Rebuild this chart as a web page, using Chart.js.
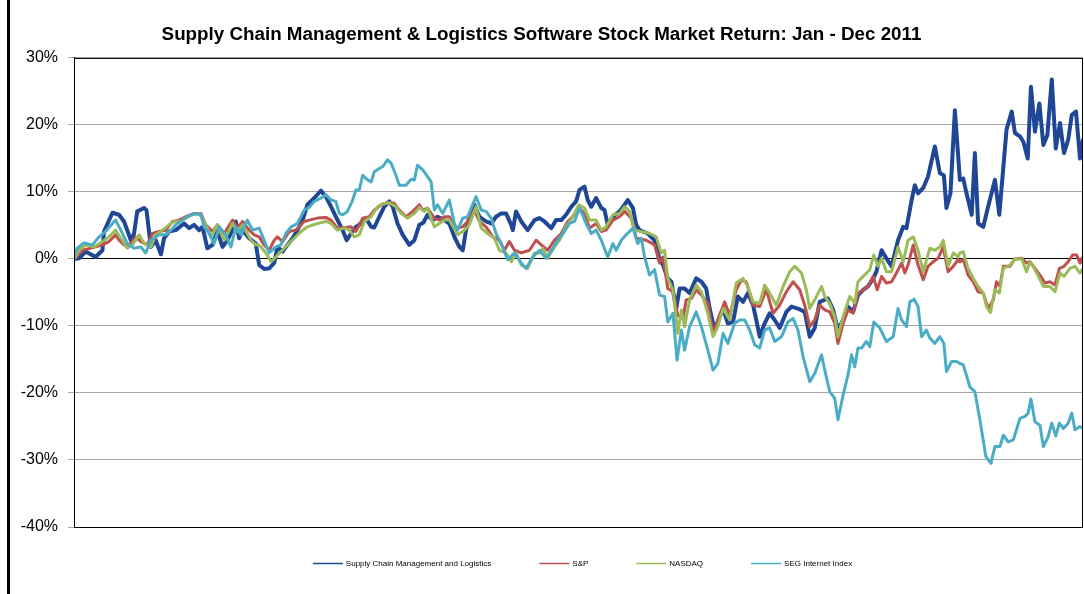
<!DOCTYPE html>
<html>
<head>
<meta charset="utf-8">
<title>Supply Chain Management &amp; Logistics Software Stock Market Return</title>
<script src="https://cdn.jsdelivr.net/npm/chart.js@4"></script>
<style>
  html, body { margin: 0; padding: 0; background: #fff; }
  #wrap { position: relative; width: 1084px; height: 594px; }
</style>
</head>
<body>
<div id="wrap"><canvas id="chart_1"></canvas></div>
<script>
// [trading day of 2011, return in %]
var scmReturn = [[0,0],[1.25,0.1],[2.9,1.1],[5.4,0.3],[7.1,1.3],[7.5,4.1],[9.6,6.9],[11.25,6.6],[12.5,5.6],[14.2,2.8],[15,3.8],[15.8,7.1],[17.5,7.6],[18.1,7.3],[19.2,1.8],[20.4,2.8],[21.7,0.7],[22.5,3.1],[23.75,4.1],[25.4,4.3],[27.5,5.3],[28.75,4.6],[30,5.1],[31.25,4.3],[32.1,4.8],[33.3,1.6],[34.6,2.1],[35.8,4.1],[37.1,1.8],[38.3,2.8],[39.6,4.3],[40.4,5.6],[41.25,3.1],[42.1,4.3],[43.75,3.1],[45.4,2.3],[46.25,-0.9],[47.5,-1.5],[48.75,-1.4],[50,-0.6],[50.8,1.8],[52.1,1.1],[53.3,2.1],[54.6,3.1],[55.8,4.3],[57.1,5.8],[58.3,8.1],[60,9.1],[61.7,10.2],[62.9,9.3],[64.2,7.8],[65.4,6.3],[67.1,4.3],[68.1,2.8],[69.2,3.8],[70.4,4.8],[71.7,5.3],[72.9,6.1],[74.2,4.8],[75,4.7],[76.25,6.3],[77.5,7.8],[78.75,8.6],[79.6,7.8],[80.8,5.3],[82.1,3.6],[83.75,2.1],[85,2.8],[86.25,5.1],[87.25,5.4],[88.3,6.6],[89.6,5.8],[90.8,6.3],[92.5,5.8],[93.75,5.3],[95,3.3],[96.25,1.8],[97.1,1.3],[97.9,4.3],[98.75,6.3],[100,8.1],[101.25,6.3],[102.9,5.6],[104.2,5.3],[105.4,6.3],[106.7,6.8],[107.9,6.8],[109.2,5.1],[109.6,4.3],[110.4,7.1],[111.7,5.6],[113.3,4.3],[115,5.8],[116.25,6.1],[117.5,5.6],[119.2,4.6],[120.4,5.8],[121.7,5.8],[122.9,6.6],[124.2,7.8],[125.4,8.6],[126.25,10.3],[127.5,10.8],[128.3,8.8],[129.2,7.8],[130.4,9.1],[131.7,7.6],[132.5,7.3],[133.3,5.1],[134.6,6.3],[136.25,7.1],[137.5,8.1],[138.3,8.8],[139.6,7.6],[140.4,5.1],[141.25,4.3],[143.3,3.8],[145,2.8],[146.25,-0.1],[147.1,-0.9],[148.3,-2.9],[149.2,-3.4],[150.4,-7.4],[151.25,-4.4],[152.5,-4.4],[153.75,-5.1],[155.4,-2.9],[156.7,-3.4],[157.9,-4.4],[158.75,-7.4],[160,-10.6],[161.25,-8.6],[162.1,-7.4],[163.3,-9.6],[164.6,-9.4],[165.8,-5.6],[167.1,-6.4],[168.3,-5.1],[169.6,-6.9],[170.4,-9.1],[171.25,-11.6],[172.5,-9.6],[173.75,-8.1],[175,-9.1],[176.25,-10.3],[177.9,-7.9],[179.2,-7.1],[180.8,-7.4],[182.5,-7.9],[183.75,-11.6],[185,-10.3],[186.25,-6.4],[188.3,-5.9],[189.6,-7.6],[190.8,-10.6],[192.1,-9.1],[193.3,-7.1],[194.6,-7.9],[195.8,-5.4],[197.1,-4.6],[198.3,-4.1],[199.6,-2.9],[200.4,-1.9],[201.7,1.3],[202.9,0.1],[204.2,-1.1],[205.8,2.8],[207.1,4.8],[207.9,4.6],[209.2,8.8],[210,11],[210.8,9.8],[212.1,10.6],[213.3,12.3],[215,16.8],[216.25,12.8],[217.25,12.5],[217.9,7.6],[218.9,9.8],[220,22.2],[221.25,11.8],[222.1,12],[222.9,9.8],[224.2,6.6],[225,15.8],[225.8,5.3],[227.1,4.8],[228.3,7.8],[230,11.8],[231.1,6.6],[232.9,19.3],[234.2,22],[235,18.8],[236.25,18.3],[237.1,17.5],[238.2,15],[239,25.7],[240,19],[241.1,23.2],[242.1,17],[243.1,18.5],[244.2,26.8],[245.2,16.5],[246.25,20.3],[247.25,15.8],[248.3,17.8],[249.2,21.5],[250.25,22],[251.25,15],[252,17.8]];

var spReturn = [[0,0],[2.1,1.3],[5.4,1.8],[7.1,2.1],[8.75,2.6],[10.4,3.6],[11.25,2.8],[12.5,2.1],[14.2,2.3],[15.4,3.3],[16.7,2.6],[18.3,2.1],[19.6,3.8],[21.25,4.1],[22.9,4.3],[24.6,5.6],[26.25,5.8],[27.9,6.3],[30,6.8],[31.7,6.8],[32.9,5.1],[34.6,4.1],[35.8,5.1],[37.5,3.8],[39.6,5.8],[40.8,4.6],[42.1,5.6],[43.75,4.3],[45,3.6],[46.25,3.3],[47.5,2.1],[48.75,1.3],[50,2.8],[50.8,3.3],[52.1,2.6],[53.75,4.1],[55.4,4.3],[57.5,5.6],[58.75,5.8],[60.8,6.1],[62.9,6.2],[64.2,5.8],[65.8,4.6],[67.9,4.7],[69.2,4.8],[70.4,4.1],[72.1,6.1],[73.75,6.3],[75,7.3],[76.7,8.1],[78.3,8.4],[80,8.3],[81.25,7.3],[82.9,6.3],[84.6,7.1],[86.25,8.1],[87.1,7.3],[88.3,7.6],[90,6.1],[91.25,5.8],[92.5,6.3],[93.75,6.3],[95.4,4.6],[97.1,4.8],[98.3,5.6],[100,7.3],[101.25,5.6],[102.9,4.8],[104.6,3.3],[106.25,2.8],[107.5,1.3],[108.75,2.6],[110,1.3],[111.7,0.9],[113.75,1.3],[115.4,2.8],[116.7,2.1],[118.3,1.3],[120,2.8],[121.7,3.8],[123.3,5.6],[125,6.6],[126.25,7.6],[127.5,6.8],[128.75,4.6],[130.4,5.3],[131.7,4.1],[132.9,4.3],[134.6,5.8],[136.25,6.3],[137.5,7.1],[139.2,6.1],[140.4,3.1],[142.9,2.8],[145,2.1],[146.25,-0.6],[147.1,0.3],[148.3,-4.4],[149.6,-4.9],[150.8,-8.4],[152.1,-8.9],[152.9,-6.1],[154.2,-5.9],[155.4,-4.6],[156.7,-5.4],[158.3,-6.6],[159.6,-11.1],[160.8,-9.1],[162.5,-6.4],[163.75,-8.4],[165.4,-4.6],[166.7,-3.1],[167.9,-3.4],[169.6,-6.9],[171.25,-7.1],[172.9,-4.6],[174.6,-8.1],[176.25,-6.9],[177.9,-4.9],[179.6,-3.4],[181.25,-4.6],[182.5,-6.9],[183.75,-10.1],[185,-9.1],[186.25,-6.9],[187.5,-7.6],[188.75,-7.9],[190,-9.6],[190.8,-12.6],[192.1,-9.6],[193.3,-7.6],[194.6,-8.1],[195.8,-5.1],[197.1,-4.6],[198.3,-4.1],[199.6,-2.6],[200.6,-4.6],[201.7,-2.6],[202.9,-3.6],[204.2,-3.4],[205.4,-2.1],[206.7,-0.6],[207.5,-2.1],[208.3,-0.9],[209.6,2.1],[210.8,-0.9],[212.1,-3.1],[213.3,-1.1],[214.6,-0.4],[215.8,0.1],[217.1,1.8],[218.3,-1.9],[219.6,-1.1],[220.8,-0.1],[221.25,-0.4],[222.1,-0.1],[223.3,-2.4],[224.6,-3.4],[225.8,-4.9],[227.1,-5.1],[228.3,-7.4],[229.6,-6.1],[230.4,-3.4],[231.25,-4.1],[232.1,-1.1],[233.75,-1.1],[235,0],[236.7,0.1],[237.9,-0.6],[238.75,-0.4],[240,-1.4],[241.25,-2.4],[242.5,-3.6],[243.75,-3.4],[245,-3.9],[246.1,-1.4],[247.25,-1.1],[248.3,-0.4],[249.4,0.6],[250.4,0.6],[251.25,-0.6],[252,0.3]];

var nasdaqReturn = [[0,0],[1.25,1.3],[2.9,2.1],[5,1.8],[7.1,2.6],[8.75,3.3],[10.4,4.3],[11.7,3.1],[13.3,1.6],[14.6,2.1],[16.25,3.6],[17.5,2.3],[19.2,1.8],[20.4,3.6],[22.1,4.3],[23.75,5.1],[25,5.6],[26.7,5.6],[27.9,6.1],[29.6,6.6],[31.25,6.8],[32.5,5.6],[34.2,3.3],[35.8,5.1],[37.5,2.8],[39.6,5.3],[40.8,4.1],[42.1,5.1],[44.2,2.8],[45.4,2.1],[46.25,2.1],[47.9,0.9],[49.2,-0.4],[50.4,0.3],[51.7,1.1],[53.3,2.1],[55,3.1],[56.7,4.1],[58.3,4.8],[60.8,5.3],[62.9,5.6],[64.2,5.3],[65.8,4.3],[67.5,4.6],[68.75,4.3],[70,3.3],[71.25,3.6],[72.5,5.6],[74.2,6.3],[75.8,7.8],[77.1,8.2],[78.75,8.4],[80.4,7.8],[81.7,6.8],[83.3,6.1],[85,6.8],[86.25,7.7],[87.5,7.1],[88.3,7.6],[90,4.8],[91.25,5.3],[92.5,5.8],[93.75,5.8],[95.8,3.6],[97.5,4.3],[98.75,5.1],[100.4,7.8],[101.7,4.6],[103.3,3.8],[105,3.1],[106.25,1.3],[107.9,0.9],[109.2,-0.4],[110.4,0.9],[111.7,-0.9],[113.3,-1.4],[115,0.9],[116.25,0.9],[117.1,1.6],[118.3,0.1],[120,1.8],[121.25,2.8],[122.9,4.8],[124.6,6.3],[126.1,8.1],[127.5,7.6],[128.75,5.8],[130.4,5.8],[131.7,4.3],[132.9,4.8],[134.6,6.6],[136.25,6.8],[137.5,7.8],[138.75,7.1],[140,4.3],[141.7,4.1],[143.75,3.8],[145.4,3.3],[146.7,0.9],[147.5,1.3],[148.3,-2.9],[149.6,-4.6],[150.8,-11.1],[151.7,-7.6],[152.5,-10.1],[153.75,-6.1],[155.4,-3.9],[156.7,-4.9],[158.3,-8.1],[159.6,-11.6],[160.8,-10.1],[162.1,-7.4],[163.75,-9.1],[165.4,-3.6],[167.1,-2.9],[168.3,-4.1],[169.6,-6.4],[171.25,-6.6],[172.5,-3.9],[173.75,-5.1],[175.4,-6.9],[177.1,-4.1],[178.75,-1.9],[180,-1.1],[181.7,-2.1],[182.9,-4.6],[183.75,-7.4],[185,-6.1],[186.7,-4.1],[187.5,-5.6],[188.75,-6.6],[190,-8.6],[190.8,-11.6],[192.1,-8.6],[193.75,-5.6],[195,-6.6],[195.8,-3.4],[197.1,-2.6],[198.75,-1.6],[199.75,0.6],[200.8,-1.1],[201.7,0.1],[202.9,-1.9],[204.2,-1.9],[205.8,1.8],[207.1,-0.4],[208.3,2.8],[209.6,3.3],[210.8,1.3],[212.1,-1.9],[213.75,1.6],[215,1.3],[216.25,1.8],[217.1,2.8],[218.3,-1.1],[219.6,0.9],[220.8,0.3],[221.25,0.9],[222.1,1.1],[223.3,-1.4],[224.6,-2.9],[225.8,-4.1],[227.1,-5.1],[227.9,-7.1],[228.9,-8],[230,-4.6],[231.1,-5.1],[232.1,-1.4],[233.75,-0.9],[235,0],[236.7,0],[237.9,-1.9],[238.75,-0.4],[240,-1.6],[242.1,-4.1],[243.75,-4.1],[245,-4.9],[246.25,-2.1],[247.25,-2.6],[248.75,-1.4],[250,-1.1],[251.25,-2.1],[252,-1.4]];

var segReturn = [[0,0.3],[0.8,1.6],[2.5,2.4],[4.6,2.1],[6.25,3.3],[7.9,4.1],[9.6,5.3],[10.4,5.8],[11.7,4.3],[13.3,2.3],[15,1.6],[16.7,1.8],[17.9,0.9],[19.2,2.8],[21.25,3.6],[22.9,3.6],[24.2,4.3],[25.4,5.1],[27.1,5.8],[28.3,6.3],[30,6.8],[31.7,6.6],[32.5,4.8],[33.75,3.8],[35,2.3],[36.25,4.8],[37.9,3.6],[39.2,1.8],[40.4,4.8],[41.7,3.6],[43.3,5.8],[44.6,4.3],[46.25,4.6],[47.5,2.8],[48.75,0.9],[50.4,1.8],[51.7,2.1],[52.9,3.8],[54.2,4.8],[55.8,5.3],[57.5,7.3],[58.75,7.7],[60,8.6],[61.7,9.1],[62.9,9.6],[64.2,8.8],[65.4,8.6],[66.25,6.8],[67.1,6.6],[68.3,7.1],[69.6,8.8],[70.4,10.3],[71.25,10.3],[72.1,12.5],[73.3,11.8],[74.2,11.5],[75,13],[76.25,13.5],[77.1,13.8],[78.3,14.8],[79.2,14.3],[80.4,12.5],[81.25,11],[82.9,11],[84.2,11.9],[85,11.8],[85.8,14],[87.1,13.3],[88.3,12.3],[89.2,11.5],[90,7.3],[90.8,8.1],[92.1,6.8],[93.75,8.8],[95,5.3],[95.8,4.3],[97.1,6.1],[98.3,6.3],[99.2,7.6],[100.4,9.3],[101.7,7.3],[102.9,7.1],[104.2,6.1],[105.4,3.8],[106.7,2.3],[108.3,-0.1],[110,0.9],[111.7,-0.6],[112.9,-1.4],[114.6,0.3],[116.25,1.3],[117.9,0.1],[119.2,1.3],[120.8,2.8],[122.5,4.1],[123.75,5.3],[125,5.6],[126.25,7.6],[127.9,5.3],[129.2,3.8],[130.4,4.3],[131.7,2.8],[133.3,0.3],[134.6,2.3],[135.4,1.3],[136.7,2.8],[137.9,3.6],[139.6,4.6],[140.8,2.3],[141.7,3.1],[142.5,0.3],[143.75,-2.4],[145,-1.6],[146.25,-5.4],[147.5,-5.6],[148.3,-9.4],[149.6,-8.1],[150.6,-15.1],[151.7,-10.6],[152.5,-13.6],[153.75,-10.1],[155.4,-7.9],[156.7,-10.1],[158.3,-13.6],[159.6,-16.6],[160.8,-15.6],[162.1,-11.1],[163.3,-12.6],[165,-9.6],[166.25,-9.1],[167.5,-9.1],[168.75,-10.6],[170,-12.8],[171.25,-13.3],[172.5,-10.6],[173.75,-10.3],[175,-12.3],[176.7,-11.6],[178.3,-9.4],[179.6,-8.9],[180.8,-10.6],[182.1,-14.6],[183.75,-18.3],[185,-17.1],[186.7,-14.3],[187.5,-16.6],[188.75,-19.8],[190,-20.8],[190.8,-24],[192.1,-20.3],[193.3,-17.3],[194.2,-14.3],[195,-16.1],[195.8,-13.3],[196.7,-13.3],[197.9,-12.3],[198.75,-13.1],[199.75,-9.4],[201.25,-10.3],[202.9,-12.3],[204.6,-11.6],[205.8,-7.4],[206.7,-9.1],[207.9,-10.1],[208.75,-6.4],[209.8,-6],[210.8,-7.1],[211.7,-11.6],[212.9,-10.6],[213.75,-11.8],[215,-12.6],[216.25,-11.6],[217.25,-12.6],[217.9,-16.8],[219.2,-15.3],[220.4,-15.3],[221.25,-15.6],[222.1,-15.8],[223.75,-19.1],[225,-19.8],[226.25,-24],[227.75,-29.5],[229,-30.5],[230,-28],[231.25,-28],[232.1,-26.3],[233.3,-27.3],[234.6,-27],[236.25,-23.8],[237.5,-23.5],[238.3,-23],[239,-20.9],[240,-24.3],[241.25,-24.8],[242.1,-28],[243.3,-26.5],[244.2,-24.5],[245.2,-26.4],[246.1,-24.5],[247.1,-25.3],[248.3,-24.5],[249.2,-23],[250,-25.5],[251.25,-25],[252,-25.3]];

var seriesNames = ["Supply Chain Management and Logistics", "S&P", "NASDAQ", "SEG Internet Index"];
var seriesColors = ["#1f4796", "#c0504d", "#9bbb59", "#4bacc6"];
var yMin = -40;
var yMax = 30;
var yStep = 10;
var lastDay = 252;

function toPoints(list) {
  return list.map(function (p) { return { x: p[0], y: p[1] }; });
}

const ctxval1 = document.getElementById("chart_1");

var myChart1 = new Chart(ctxval1, {
  type: "line",
  data: {
    datasets: [
      { label: seriesNames[0], data: toPoints(scmReturn), borderColor: seriesColors[0], borderWidth: 4, order: 4 },
      { label: seriesNames[1], data: toPoints(spReturn), borderColor: seriesColors[1], borderWidth: 3, order: 3 },
      { label: seriesNames[2], data: toPoints(nasdaqReturn), borderColor: seriesColors[2], borderWidth: 3, order: 2 },
      { label: seriesNames[3], data: toPoints(segReturn), borderColor: seriesColors[3], borderWidth: 3, order: 1 },
    ],
  },
  options: {
    responsive: true,
    maintainAspectRatio: false,
    animation: false,
    elements: {
      point: { radius: 0 },
      line: { tension: 0, borderJoinStyle: "round", borderCapStyle: "round" },
    },
    layout: {
      padding: { left: 0, right: 1, top: 0, bottom: 67 },
    },
    plugins: {
      legend: { display: false },
      tooltip: { enabled: false },
      title: {
        display: true,
        text: "Supply Chain Management & Logistics Software Stock Market Return: Jan - Dec 2011",
        color: "#000",
        font: { family: "Arial, 'Liberation Sans', sans-serif", size: 18.8, weight: "bold" },
        padding: { top: 23.7, bottom: 11.7 },
      },
    },
    scales: {
      x: {
        type: "linear",
        min: 0,
        max: lastDay,
        display: false,
      },
      y: {
        min: yMin,
        max: yMax,
        afterFit: function (scale) {
          //fixed axis width so the plot starts where the original one does
          scale.width = 74;
        },
        ticks: {
          stepSize: yStep,
          padding: 10,
          color: "#000",
          font: { family: "Arial, 'Liberation Sans', sans-serif", size: 16 },
          callback: function (value) {
            return value + "%";
          },
        },
        grid: {
          tickLength: 6,
          tickColor: "#a6a6a6",
          color: function (c) {
            return c.tick && c.tick.value === 0 ? "#000" : "#a6a6a6";
          },
        },
        border: { display: true, color: "#000" },
      },
    },
  },
  plugins: [
    {
      //white page, plot frame and the left edge of the outer chart border
      id: "frame",
      beforeDraw: (chart) => {
        const { ctx, width, height } = chart;
        ctx.save();
        ctx.fillStyle = "#fff";
        ctx.fillRect(0, 0, width, height);
        ctx.restore();
      },
      afterDraw: (chart) => {
        const { ctx, height, chartArea: { left, top, right, bottom } } = chart;
        ctx.save();
        ctx.strokeStyle = "#000";
        ctx.lineWidth = 1;
        ctx.strokeRect(left + 0.5, top + 0.5, right - left - 1, bottom - top);
        ctx.fillStyle = "#000";
        ctx.fillRect(7, 0, 3, height);
        ctx.restore();
      },
    },
    {
      //legend drawn as a single row under the plot like the original
      id: "bottomLegend",
      afterDraw: (chart) => {
        const { ctx, chartArea: { left, right, bottom } } = chart;
        const lineLen = 30;
        const textGap = 3;
        const itemGap = 48;
        const y = bottom + 36.5;
        ctx.save();
        ctx.font = "8px Arial, 'Liberation Sans', sans-serif";
        ctx.textBaseline = "middle";
        const widths = chart.data.datasets.map((ds) => lineLen + textGap + ctx.measureText(ds.label).width);
        const total = widths.reduce((a, b) => a + b, 0) + itemGap * (widths.length - 1);
        let x = (left + right) / 2 - total / 2 + 4;
        chart.data.datasets.forEach((ds, i) => {
          ctx.strokeStyle = ds.borderColor;
          ctx.lineWidth = 1.5;
          ctx.beginPath();
          ctx.moveTo(x, y);
          ctx.lineTo(x + lineLen, y);
          ctx.stroke();
          ctx.fillStyle = "#000";
          ctx.fillText(ds.label, x + lineLen + textGap, y);
          x += widths[i] + itemGap;
        });
        ctx.restore();
      },
    },
  ],
});
</script>
</body>
</html>
